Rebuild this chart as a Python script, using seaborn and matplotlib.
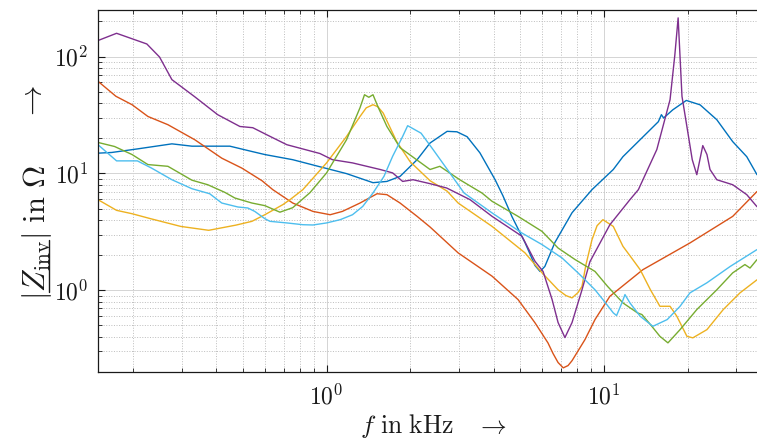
import numpy as np
import pandas as pd
import matplotlib
matplotlib.use("Agg")
import matplotlib.pyplot as plt
import seaborn as sns
from matplotlib.ticker import LogLocator, FuncFormatter, NullFormatter
from matplotlib.lines import Line2D

# ---- impedance magnitude |Z_inv| (Ohm) over frequency (kHz) ----
blue_f = [0.150, 0.168, 0.208, 0.277, 0.327, 0.448, 0.538, 0.599, 0.755, 0.946, 1.18, 1.47, 1.65, 1.84,
          2.12, 2.36, 2.72, 2.95, 3.21, 3.57, 4.05, 4.32, 4.66, 5.19, 5.64, 5.88, 6.12, 6.65, 7.67, 9.05,
          10.8, 11.7, 15.7, 16.1, 16.4, 17.7, 19.8, 22.2, 25.5, 29.1, 32.7, 35.6]
blue_z = [14.9, 15.1, 16.2, 17.9, 17.1, 17.1, 15.4, 14.5, 13.1, 11.4, 9.96, 8.33, 8.54, 9.43,
          13.1, 18.2, 22.9, 22.7, 20.6, 15.0, 8.83, 6.45, 4.26, 2.56, 1.63, 1.45, 1.60, 2.56, 4.61, 7.26,
          10.8, 13.9, 27.7, 31.8, 29.8, 35.0, 42.1, 38.6, 28.8, 18.7, 13.9, 9.75]

orange_f = [0.150, 0.174, 0.199, 0.227, 0.268, 0.335, 0.419, 0.495, 0.585, 0.640, 0.755, 0.893, 1.03,
            1.14, 1.32, 1.52, 1.65, 1.84, 2.12, 2.36, 2.98, 3.95, 4.90, 5.64, 6.28, 6.55, 6.83, 7.13,
            7.42, 7.67, 8.54, 9.28, 10.5, 13.8, 20.4, 29.1, 35.6]
orange_z = [61.4, 45.7, 38.7, 30.7, 26.1, 19.4, 13.5, 11.1, 8.66, 7.26, 5.58, 4.73, 4.43,
            4.73, 5.58, 6.70, 6.58, 5.58, 4.29, 3.48, 2.09, 1.32, 0.833, 0.527, 0.355, 0.288, 0.241, 0.217,
            0.227, 0.250, 0.379, 0.562, 0.889, 1.50, 2.54, 4.29, 7.0]

yellow_f = [0.150, 0.175, 0.199, 0.231, 0.298, 0.376, 0.471, 0.538, 0.599, 0.695, 0.738, 0.821, 1.00,
            1.18, 1.32, 1.39, 1.47, 1.53, 1.60, 1.79, 2.00, 2.36, 2.72, 2.98, 3.95, 5.19, 5.98, 6.83,
            7.29, 7.67, 8.06, 8.33, 8.61, 9.05, 9.44, 9.91, 10.8, 11.7, 12.7, 13.5, 14.7, 15.9, 17.3,
            18.3, 19.9, 20.9, 23.5, 26.9, 30.9, 35.6]
yellow_z = [5.96, 4.83, 4.52, 4.11, 3.52, 3.26, 3.61, 3.89, 4.43, 5.40, 5.96, 7.26, 12.3,
            20.7, 30.7, 36.4, 38.7, 37.2, 32.8, 18.7, 12.6, 8.66, 7.05, 5.58, 3.52, 2.09, 1.41, 1.01,
            0.901, 0.861, 0.956, 1.08, 1.66, 2.71, 3.57, 4.02, 3.52, 2.38, 1.83, 1.50, 1.01, 0.730, 0.730,
            0.600, 0.404, 0.392, 0.461, 0.684, 0.950, 1.23]

purple_f = [0.150, 0.175, 0.225, 0.250, 0.277, 0.335, 0.405, 0.487, 0.542, 0.609, 0.719, 0.946, 1.05,
            1.24, 1.56, 1.73, 1.88, 2.05, 2.36, 2.71, 3.29, 3.95, 5.06, 5.64, 6.03, 6.50, 6.83, 7.23,
            7.67, 8.33, 8.90, 10.5, 12.4, 13.3, 15.5, 17.3, 18.0, 18.5, 19.1, 19.9, 20.8, 21.6, 22.7,
            23.5, 24.1, 25.5, 29.1, 32.7, 35.6]
purple_z = [137, 158, 128, 99, 63.4, 45.2, 31.8, 25.2, 24.6, 21.4, 17.6, 14.8, 13.1,
            12.3, 10.8, 10.1, 8.54, 8.83, 8.17, 7.50, 5.96, 4.29, 2.90, 1.77, 1.45, 0.833, 0.530, 0.394,
            0.530, 1.01, 1.76, 3.64, 5.96, 7.26, 16.0, 42.7, 103, 214, 45.7, 25.1, 13.1, 9.75, 17.3,
            14.5, 10.8, 8.83, 8.00, 6.58, 5.19]

green_f = [0.150, 0.172, 0.199, 0.227, 0.268, 0.327, 0.373, 0.430, 0.467, 0.538, 0.599, 0.679, 0.755,
           0.871, 1.00, 1.18, 1.32, 1.37, 1.42, 1.47, 1.53, 1.65, 1.84, 2.36, 2.56, 3.02, 3.63, 3.95,
           4.90, 5.98, 6.83, 7.87, 9.28, 10.3, 11.7, 13.2, 13.7, 14.7, 15.9, 17.0, 18.8, 21.6, 25.5,
           29.1, 32.2, 33.6, 35.6]
green_z = [18.4, 17.0, 14.5, 11.9, 11.5, 8.75, 8.00, 6.88, 6.16, 5.58, 5.30, 4.66, 5.09,
           6.84, 10.1, 19.4, 36.5, 47.1, 44.8, 47.1, 37.4, 25.2, 16.6, 10.8, 11.5, 8.83, 6.80, 5.77,
           4.29, 3.19, 2.30, 1.83, 1.45, 1.08, 0.780, 0.641, 0.620, 0.509, 0.404, 0.355, 0.461, 0.684, 1.01,
           1.41, 1.66, 1.55, 1.83]

cyan_f = [0.150, 0.175, 0.208, 0.234, 0.277, 0.327, 0.379, 0.419, 0.479, 0.520, 0.551, 0.599, 0.625,
          0.719, 0.821, 0.893, 1.00, 1.12, 1.24, 1.35, 1.47, 1.61, 1.73, 1.88, 1.96, 2.19, 2.42, 2.78,
          3.13, 3.95, 5.06, 5.98, 7.06, 8.06, 9.28, 9.91, 10.8, 11.1, 11.6, 11.9, 12.4, 13.5, 15.0,
          16.9, 18.8, 20.4, 23.5, 28.5, 35.6]
cyan_z = [17.6, 12.8, 12.8, 11.1, 8.83, 7.40, 6.70, 5.58, 5.16, 5.06, 4.73, 4.10, 3.89,
          3.77, 3.64, 3.62, 3.77, 4.02, 4.43, 5.22, 6.80, 9.43, 14.0, 20.7, 25.6, 22.1, 16.0, 10.1,
          6.80, 4.59, 3.09, 2.46, 1.89, 1.41, 1.01, 0.833, 0.641, 0.608, 0.780, 0.919, 0.780, 0.600, 0.492,
          0.562, 0.730, 0.950, 1.16, 1.60, 2.23]

series = {
    "s1": (blue_f, blue_z),
    "s2": (orange_f, orange_z),
    "s3": (yellow_f, yellow_z),
    "s4": (purple_f, purple_z),
    "s5": (green_f, green_z),
    "s6": (cyan_f, cyan_z),
}
colors = ["#0072BD", "#D95319", "#EDB120", "#7E2F8E", "#77AC30", "#4DBEEE"]

df = pd.concat(
    [pd.DataFrame({"f": f, "Z": z, "series": name}) for name, (f, z) in series.items()],
    ignore_index=True,
)

sns.set_theme(style="white")
plt.rcParams["font.family"] = ["DejaVu Serif"]
plt.rcParams["mathtext.fontset"] = "cm"
text_color = "#1a1a1a"

W, H = 757, 447
fig = plt.figure(figsize=(W / 100, H / 100), dpi=100)
ax = fig.add_axes([98 / W, 75 / H, 659 / W, 362 / H])

sns.lineplot(data=df, x="f", y="Z", hue="series", hue_order=list(series.keys()),
             palette=colors, sort=False, estimator=None, legend=False, lw=1.0, ax=ax)

ax.set_xscale("log")
ax.set_yscale("log")
ax.set_xlim(0.15, 35.6)
ax.set_ylim(0.2, 250)

for axis in (ax.xaxis, ax.yaxis):
    axis.set_major_locator(LogLocator(base=10, numticks=12))
    axis.set_minor_locator(LogLocator(base=10, subs=np.arange(2, 10), numticks=12))
    axis.set_major_formatter(FuncFormatter(lambda v, p: r"$10^{%d}$" % round(np.log10(v))))
    axis.set_minor_formatter(NullFormatter())

ax.tick_params(which="both", direction="in", top=True, right=False, bottom=True, left=True,
               colors=text_color)
ax.tick_params(which="major", length=5, width=0.8, labelsize=17)
ax.tick_params(axis="x", which="major", pad=9)
ax.tick_params(axis="y", which="major", pad=7)
ax.tick_params(which="minor", length=3, width=0.6)

ax.grid(which="major", color="#d4d4d4", ls="-", lw=0.7)
ax.grid(which="minor", color="#bdbdbd", ls=":", lw=0.7)
ax.set_axisbelow(True)

for side in ("left", "bottom", "top"):
    ax.spines[side].set_visible(True)
    ax.spines[side].set_color(text_color)
    ax.spines[side].set_linewidth(0.9)
ax.spines["right"].set_visible(False)
ax.set_xlabel("")
ax.set_ylabel("")

# x-axis label
fig.text(433 / W, (H - 433) / H, r"$f\ \mathrm{in\ kHz}\quad\rightarrow$",
         ha="center", va="baseline", fontsize=18.5, color=text_color)

# y-axis label, built from pieces so the phasor underline can be drawn
fs_y = 22
fig.canvas.draw()
renderer = fig.canvas.get_renderer()


def text_width(s):
    t = fig.text(0, 0, s, fontsize=fs_y)
    w = t.get_window_extent(renderer).width
    t.remove()
    return w


base_x = 45.0
start_y = H - 300.0
fig.text(base_x / W, start_y / H, r"$|Z_{\mathrm{inv}}|\ \mathrm{in}\ \Omega$",
         rotation=90, rotation_mode="anchor", ha="left", va="baseline",
         fontsize=fs_y, color=text_color)
w_bar = text_width(r"$|$")
w_z = text_width(r"$|Z_{\mathrm{inv}}$")
ul_x = base_x + 4.0
fig.add_artist(Line2D([ul_x / W, ul_x / W],
                      [(start_y + w_bar + 1) / H, (start_y + w_z) / H],
                      transform=fig.transFigure, color=text_color, lw=1.0))
fig.text(33 / W, (H - 103) / H, r"$\rightarrow$", rotation=90,
         ha="center", va="center", fontsize=fs_y, color=text_color)

fig.savefig("out.png", dpi=100)
